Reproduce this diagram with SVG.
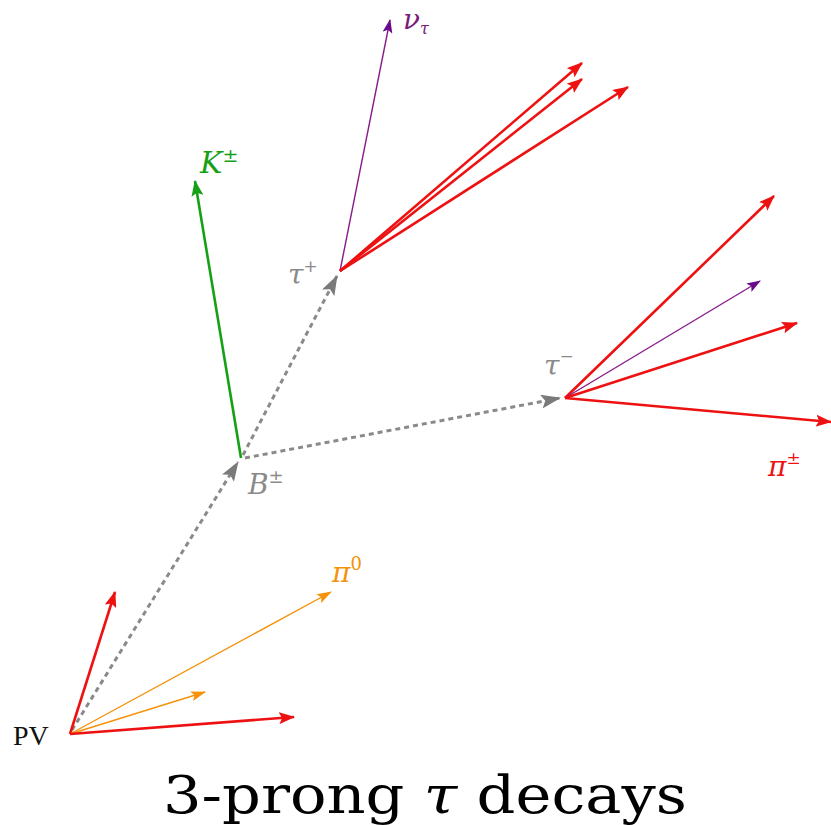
<svg xmlns="http://www.w3.org/2000/svg" width="831" height="825" viewBox="0 0 831 825">
<style>
.red{stroke:#ee1111;stroke-width:2.6;fill:none}
.grn{stroke:#16a016;stroke-width:2.6;fill:none}
.pur{stroke:#8a1a8a;stroke-width:1.4;fill:none}
.org{stroke:#f5920a;stroke-width:1.4;fill:none}
.gry{stroke:#8a8a8a;stroke-width:3;stroke-dasharray:5 4;fill:none}
.lbl{font-family:"DejaVu Serif","Liberation Serif",serif;font-style:italic}
</style>
<defs>
<marker id="ar" markerUnits="userSpaceOnUse" markerWidth="16" markerHeight="12" viewBox="0 0 16 12" refX="15" refY="6" orient="auto"><path d="M0,0 L16,6 L0,12 L3,6 Z" fill="#ee1111"/></marker>
<marker id="ag" markerUnits="userSpaceOnUse" markerWidth="16" markerHeight="12" viewBox="0 0 16 12" refX="15" refY="6" orient="auto"><path d="M0,0 L16,6 L0,12 L3,6 Z" fill="#16a016"/></marker>
<marker id="ap" markerUnits="userSpaceOnUse" markerWidth="14" markerHeight="10" viewBox="0 0 14 10" refX="13" refY="5" orient="auto"><path d="M0,0 L14,5 L0,10 L3,5 Z" fill="#6a0a8a"/></marker>
<marker id="ao" markerUnits="userSpaceOnUse" markerWidth="15" markerHeight="10" viewBox="0 0 15 10" refX="14" refY="5" orient="auto"><path d="M0,0 L15,5 L0,10 L3,5 Z" fill="#f5920a"/></marker>
<marker id="ay" markerUnits="userSpaceOnUse" markerWidth="20" markerHeight="14" viewBox="0 0 20 14" refX="19" refY="7" orient="auto"><path d="M0,0 L20,7 L0,14 L4,7 Z" fill="#7a7a7a"/></marker>
</defs>
<g id="connectors">
<line class="gry" x1="72" y1="730" x2="238" y2="462" marker-end="url(#ay)"/>
<line class="gry" x1="243" y1="455" x2="337" y2="276" marker-end="url(#ay)"/>
<line class="gry" x1="245" y1="458" x2="560" y2="398" marker-end="url(#ay)"/>
<line class="red" x1="70" y1="734" x2="115" y2="592" marker-end="url(#ar)"/>
<line class="org" x1="70" y1="734" x2="331" y2="592" marker-end="url(#ao)"/>
<line class="org" x1="70" y1="734" x2="205" y2="692" marker-end="url(#ao)"/>
<line class="red" x1="70" y1="734" x2="294" y2="717" marker-end="url(#ar)"/>
<line class="grn" x1="241" y1="458" x2="195" y2="181" marker-end="url(#ag)"/>
<line class="pur" x1="340" y1="271" x2="390" y2="20" marker-end="url(#ap)"/>
<line class="red" x1="340" y1="271" x2="582" y2="63" marker-end="url(#ar)"/>
<line class="red" x1="340" y1="271" x2="582" y2="79" marker-end="url(#ar)"/>
<line class="red" x1="340" y1="271" x2="628" y2="87" marker-end="url(#ar)"/>
<line class="red" x1="565" y1="398" x2="774" y2="196" marker-end="url(#ar)"/>
<line class="pur" x1="565" y1="398" x2="760" y2="281" marker-end="url(#ap)"/>
<line class="red" x1="565" y1="398" x2="797" y2="323" marker-end="url(#ar)"/>
<line class="red" x1="565" y1="398" x2="831" y2="422" marker-end="url(#ar)"/>
</g>
<g id="PV"><text x="13" y="745" font-family="Liberation Serif,serif" font-size="28" fill="#111">PV</text></g>
<g id="B"><text class="lbl" x="248" y="494" font-size="28" fill="#8a8a8a">B<tspan font-style="normal" font-size="18" dy="-11">±</tspan></text></g>
<g id="K"><text class="lbl" x="200" y="173" font-size="30" fill="#16a016">K<tspan font-style="normal" font-size="19" dy="-11">±</tspan></text></g>
<g id="tauplus"><text class="lbl" x="288" y="284" font-size="28" fill="#8a8a8a">τ<tspan font-style="normal" font-size="17" dy="-12">+</tspan></text></g>
<g id="tauminus"><text class="lbl" x="544" y="375" font-size="28" fill="#8a8a8a">τ<tspan font-style="normal" font-size="17" dy="-13">−</tspan></text></g>
<g id="nu"><text class="lbl" x="403" y="29" font-size="28" fill="#7a1a7a">ν<tspan font-size="16" dy="5">τ</tspan></text></g>
<g id="pipm"><text class="lbl" x="768" y="476" font-size="28" fill="#ee1111">π<tspan font-style="normal" font-size="17" dy="-12">±</tspan></text></g>
<g id="pi0"><text class="lbl" x="332" y="582" font-size="28" fill="#f5920a">π<tspan font-style="normal" font-size="18" dy="-12">0</tspan></text></g>
<g id="title"><text x="425" y="813" text-anchor="middle" font-family="DejaVu Serif,Liberation Serif,serif" font-size="52" fill="#000" textLength="524" lengthAdjust="spacingAndGlyphs">3-prong <tspan font-style="italic">τ</tspan> decays</text></g>
</svg>
